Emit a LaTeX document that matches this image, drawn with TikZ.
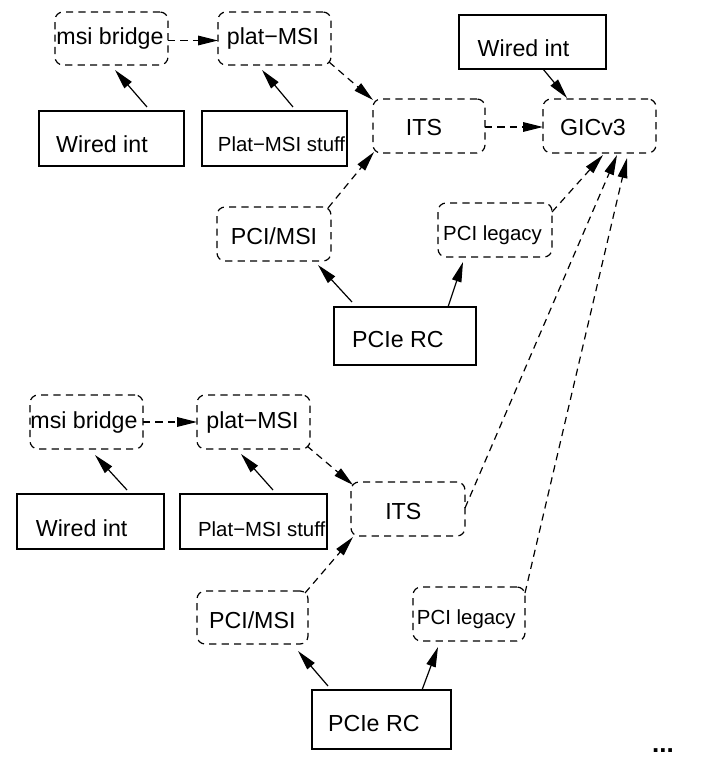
\documentclass[tikz,border=0pt]{standalone}
\usepackage{fontspec}
\setmainfont{Liberation Sans}
\usetikzlibrary{arrows.meta,calc}
\begin{document}
\begin{tikzpicture}[x=0.5pt,y=-0.5pt,
  bx/.style n args={2}{minimum width=#1*0.5pt, minimum height=#2*0.5pt},
  sbox/.style={draw, line width=0.6pt, inner sep=0pt, outer sep=0pt},
  dbox/.style={draw, line width=0.6pt, inner sep=0pt, outer sep=0pt, rounded corners=4pt, dash pattern=on 3.6pt off 2.6pt},
  lt/.style={font=\fontsize{11.6}{14}\selectfont, anchor=base, inner sep=0pt},
  st/.style={font=\fontsize{10.2}{12}\selectfont, anchor=base, inner sep=0pt},
  sarr/.style={line width=0.6pt, -{Triangle[length=10pt,width=4.8pt]}},
  darr/.style={line width=0.6pt, dash pattern=on 3.6pt off 2.6pt, -{Triangle[length=10pt,width=4.8pt]}}]
\useasboundingbox (0,0) rectangle (712,769);

% ---------- top group ----------
\node[dbox, bx={113}{53}] (mb1) at (111.5,38.5) {};
\node[dbox, bx={113}{53}] (pm1) at (274.5,38.5) {};
\node[sbox, bx={145}{55}] (wi1) at (111.5,138.5) {};
\node[sbox, bx={145}{55}] (ps1) at (274.5,138.5) {};
\node[sbox, bx={147}{54}] (wi0) at (532.5,42) {};
\node[dbox, bx={112}{54}] (its1) at (429,126) {};
\node[dbox, bx={113}{54}] (gic) at (599.5,126) {};
\node[dbox, bx={114}{54}] (pl1) at (495,230) {};
\node[dbox, bx={114}{54}] (pci1) at (274,234) {};
\node[sbox, bx={142}{58}] (rc1) at (405,336) {};

\node[lt] (tmb1) at (110,45) {msi bridge};
\node[lt] (tpm1) at (273,45) {plat−MSI};
\node[lt] (twi1) at (102,152.7) {Wired int};
\node[st] (tps1) at (281.5,151.7) {Plat−MSI stuff};
\node[lt] (twi0) at (523.5,56.7) {Wired int};
\node[lt] (tits1) at (424,135.7) {ITS};
\node[lt] (tgic) at (593,135.7) {GICv3};
\node[st] (tpl1) at (492.5,240.7) {PCI legacy};
\node[lt] (tpci1) at (274,244.3) {PCI/MSI};
\node[lt] (trc1) at (398,348) {PCIe RC};

% ---------- bottom group ----------
\node[dbox, bx={113}{54}] (mb2) at (86.5,422) {};
\node[dbox, bx={113}{54}] (pm2) at (253.5,422) {};
\node[sbox, bx={147}{55}] (wi2) at (90.5,521.5) {};
\node[sbox, bx={147}{55}] (ps2) at (253.5,521.5) {};
\node[dbox, bx={114}{54}] (its2) at (408,509) {};
\node[dbox, bx={111}{53}] (pci2) at (252.5,617.5) {};
\node[dbox, bx={112}{54}] (pl2) at (469,614) {};
\node[sbox, bx={139}{59}] (rc2) at (381.5,719.5) {};

\node[lt] (tmb2) at (84,428.3) {msi bridge};
\node[lt] (tpm2) at (252.5,428.3) {plat−MSI};
\node[lt] (twi2) at (81.7,536.7) {Wired int};
\node[st] (tps2) at (261.7,536.7) {Plat−MSI stuff};
\node[lt] (tits2) at (403.3,519.3) {ITS};
\node[lt] (tpci2) at (252.3,628.3) {PCI/MSI};
\node[st] (tpl2) at (466.3,624.3) {PCI legacy};
\node[lt] (trc2) at (373.8,731.7) {PCIe RC};

\node[font=\bfseries\fontsize{13}{15}\selectfont, anchor=base, inner sep=0pt] (dots) at (663,752) {...};

% ---------- connectors, top ----------
\draw[darr] ($(mb1.east)+(0,2)$) -- ($(pm1.west)+(0,2)$);
\draw[sarr] ($(wi1.north)+(35.5,-4)$) -- ($(mb1.south)+(3.5,5)$);
\draw[sarr] ($(ps1.north)+(18.5,-4)$) -- ($(pm1.south)+(-12.5,5)$);
\draw[darr] ($(pm1.south east)+(-2,-3)$) -- ($(its1.north west)+(0,1)$);
\draw[sarr] ($(wi0.south)+(10.5,0)$) -- ($(gic.north)+(-32.5,-1)$);
\draw[darr] ($(its1.east)+(0,1)$) -- ($(gic.west)+(0,1)$);
\draw[darr] ($(pci1.north east)+(-3,1)$) -- ($(its1.south west)+(1,-1)$);
\draw[sarr] ($(rc1.north)+(-53,-5)$) -- ($(pci1.south)+(44,4)$);
\draw[sarr] ($(rc1.north)+(43,0)$) -- ($(pl1.south)+(-32,5)$);
\draw[darr] ($(pl1.north east)+(0,9)$) -- ($(gic.south)+(3.5,2)$);

% ---------- connectors, bottom ----------
\draw[darr] (mb2.east) -- (pm2.west);
\draw[sarr] ($(wi2.north)+(36.5,-4)$) -- ($(mb2.south)+(8.5,6)$);
\draw[sarr] ($(ps2.north)+(19.5,-4)$) -- ($(pm2.south)+(-12.5,5)$);
\draw[darr] ($(pm2.south east)+(-3,-3)$) -- ($(its2.north west)+(2,3)$);
\draw[darr] ($(pci2.north east)+(-3,2)$) -- ($(its2.south west)+(2,1)$);
\draw[sarr] ($(rc2.north)+(-53.5,-4)$) -- ($(pci2.south)+(45.5,7)$);
\draw[sarr] ($(rc2.north)+(40.5,0)$) -- ($(pl2.south)+(-31,6)$);
\draw[darr] ($(its2.east)+(0,-1)$) -- ($(gic.south)+(17.5,2)$);
\draw[darr] ($(pl2.north east)+(0,6)$) -- ($(gic.south)+(27.5,5)$);
\end{tikzpicture}
\end{document}
